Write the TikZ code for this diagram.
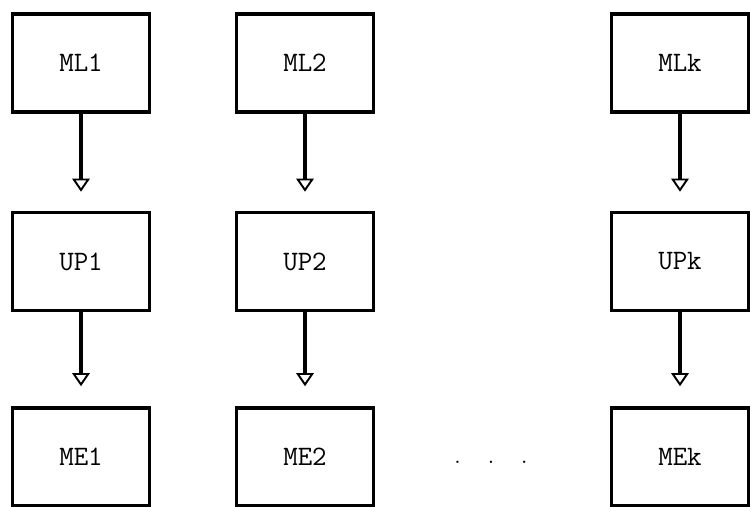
\documentclass[tikz,border=0pt]{standalone}
\usepackage{tikz}
\usetikzlibrary{arrows.meta,positioning}

\begin{document}
\begin{tikzpicture}[font=\ttfamily\fontsize{16}{19}\selectfont,
  line width=2pt,
  unit/.style={draw, minimum width=2.74cm, minimum height=1.96cm, inner sep=0pt},
  flow/.style={-{Triangle[open, width=10pt, length=7.5pt, line width=1.1pt]}}]
\useasboundingbox (0,0) rectangle (15,-10.14);

% memory / processor / memory columns
\node[unit] (ML1) at (1.62,-1.26) {ML1};
\node[unit] (ML2) at (6.10,-1.26) {ML2};
\node[unit] (MLk) at (13.60,-1.26) {MLk};

\node[unit] (UP1) at (1.62,-5.23) {UP1};
\node[unit] (UP2) at (6.10,-5.23) {UP2};
\node[unit] (UPk) at (13.60,-5.23) {UPk};

\node[unit] (ME1) at (1.62,-9.14) {ME1};
\node[unit] (ME2) at (6.10,-9.14) {ME2};
\node[unit] (MEk) at (13.60,-9.14) {MEk};

\node[font=\ttfamily\fontsize{12}{14}\selectfont] (dots) at (9.82,-9.25) {.\hspace{0.45cm}.\hspace{0.45cm}.};

\draw[flow, shorten >=0.38cm] (ML1) -- (UP1);
\draw[flow, shorten >=0.38cm] (ML2) -- (UP2);
\draw[flow, shorten >=0.38cm] (MLk) -- (UPk);
\draw[flow, shorten >=0.40cm] (UP1) -- (ME1);
\draw[flow, shorten >=0.40cm] (UP2) -- (ME2);
\draw[flow, shorten >=0.40cm] (UPk) -- (MEk);
\end{tikzpicture}
\end{document}
